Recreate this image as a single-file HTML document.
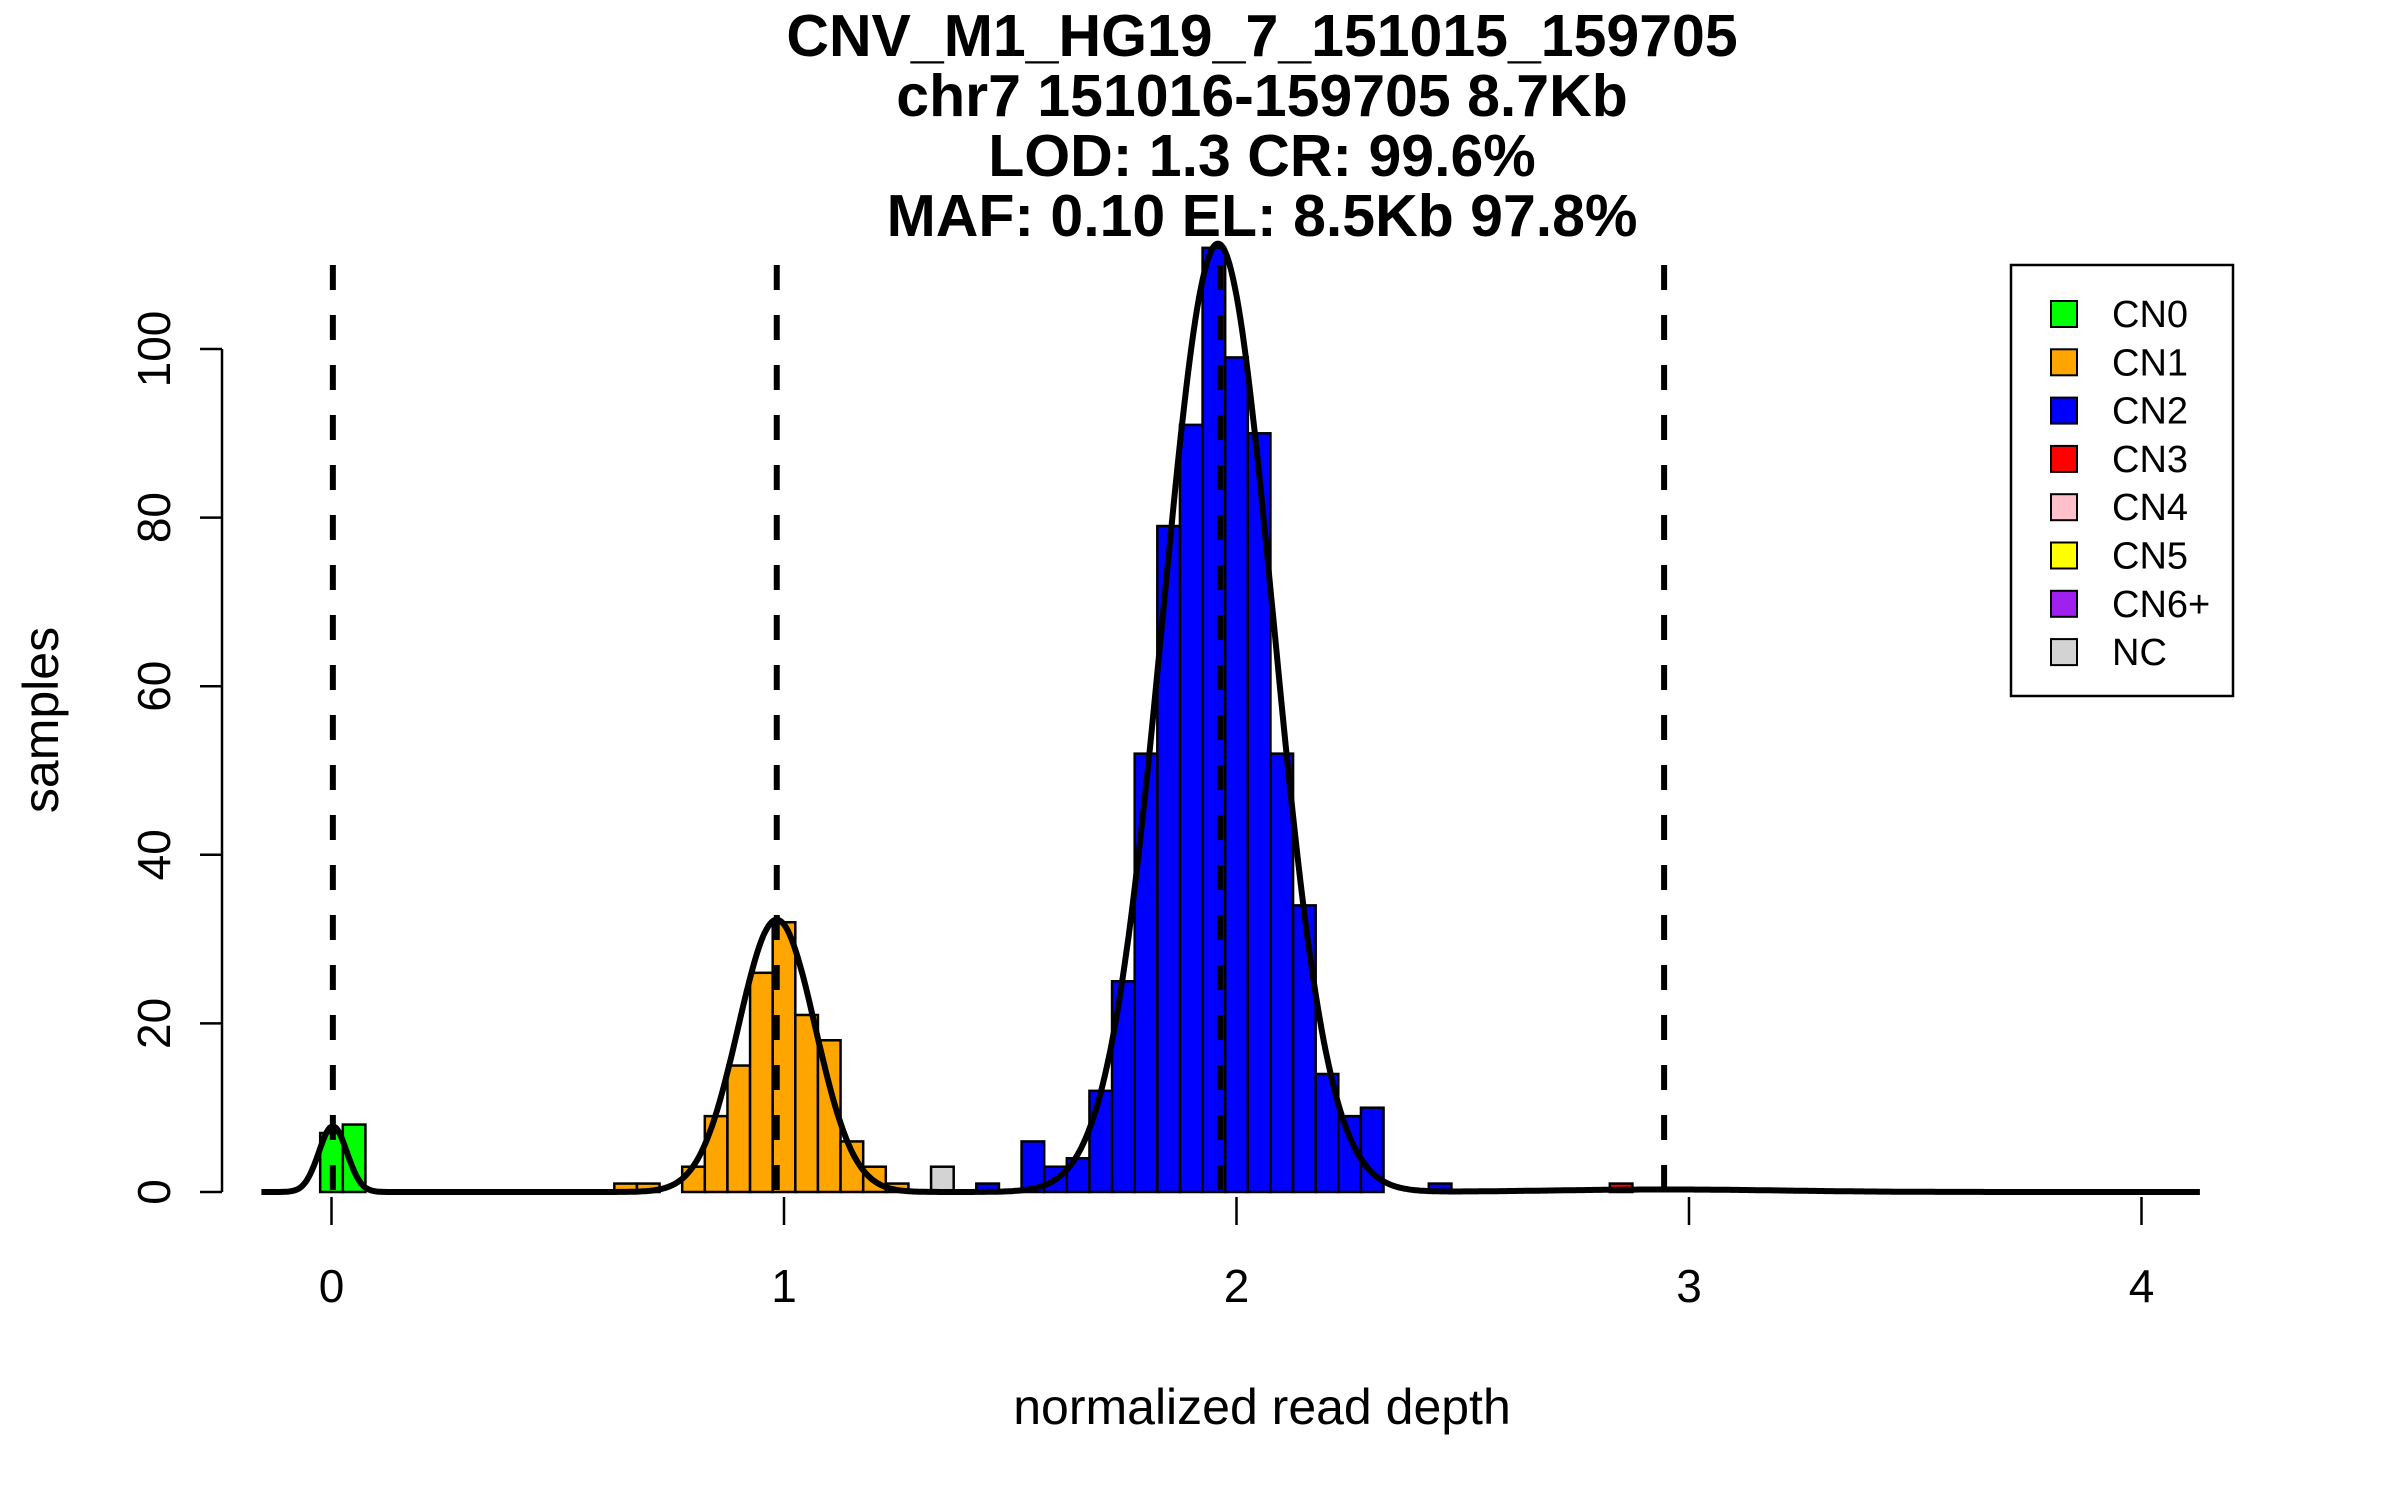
<!DOCTYPE html>
<html><head><meta charset="utf-8"><style>
html,body{margin:0;padding:0;background:#fff;}
svg{display:block;font-family:"Liberation Sans",Arial,sans-serif;}
</style></head><body>
<svg id="chart" width="2400" height="1500" viewBox="0 0 2400 1500">
<g font-weight="bold" font-size="59" text-anchor="middle">
<text x="1262" y="56">CNV_M1_HG19_7_151015_159705</text>
<text x="1262" y="116">chr7 151016-159705 8.7Kb</text>
<text x="1262" y="176">LOD: 1.3 CR: 99.6%</text>
<text x="1262" y="236">MAF: 0.10 EL: 8.5Kb 97.8%</text>
</g>
<g id="bars"></g>
<g id="dashes"></g>
<path id="curve" fill="none" stroke="#000" stroke-width="6" stroke-linejoin="round"/>
<g id="yaxis"></g>
<g id="xaxis"></g>
<text x="1262" y="1424" font-size="50" text-anchor="middle">normalized read depth</text>
<text transform="translate(58,720) rotate(-90)" font-size="50" text-anchor="middle">samples</text>
<g id="legend"></g>
</svg>
<script>
const binWidth = 0.05;
const barLefts = [-0.025,0.025, 0.625,0.675,0.775,0.825,0.875,0.925,0.975,1.025,1.075,1.125,1.175,1.225, 1.325, 1.425,1.525,1.575,1.625,1.675,1.725,1.775,1.825,1.875,1.925,1.975,2.025,2.075,2.125,2.175,2.225,2.275,2.425, 2.825];
const barCounts = [7,8, 1,1,3,9,15,26,32,21,18,6,3,1, 3, 1,6,3,4,12,25,52,79,91,112,99,90,52,34,14,9,10,1, 1];
const barClasses = ['CN0','CN0','CN1','CN1','CN1','CN1','CN1','CN1','CN1','CN1','CN1','CN1','CN1','CN1','NC','CN2','CN2','CN2','CN2','CN2','CN2','CN2','CN2','CN2','CN2','CN2','CN2','CN2','CN2','CN2','CN2','CN2','CN2','CN3'];
const compMeans = [0.003, 0.984, 1.959, 2.95];
const compHeights = [7.8, 32.3, 112.5, 0.3];
const compSds = [0.031, 0.085, 0.122, 0.25];
const refLines = [0.003, 0.984, 1.964, 2.945];
const xTicks = [0,1,2,3,4];
const yTicks = [0,20,40,60,80,100];
const legendLabels = ['CN0','CN1','CN2','CN3','CN4','CN5','CN6+','NC'];
const legendColors = ['#00ff00','#ffa500','#0000ff','#ff0000','#ffc0cb','#ffff00','#a020f0','#d3d3d3'];

const X0 = 331.5, XU = 452.5, Y0 = 1192, YU = 8.43;
const sx = v => X0 + v*XU;
const sy = v => Y0 - v*YU;
const NS = 'http://www.w3.org/2000/svg';
function mk(tag, parent, attrs){const e=document.createElementNS(NS,tag);for(const k in attrs)e.setAttribute(k,attrs[k]);parent.appendChild(e);return e;}
const colorOf = c => legendColors[legendLabels.indexOf(c)];

const bars = document.getElementById('bars');
barLefts.forEach((l,i)=>{
  const x1=sx(l), x2=sx(l+binWidth), y=sy(barCounts[i]);
  const r=mk('rect',bars,{x:x1,y:y,width:x2-x1,height:Y0-y,fill:colorOf(barClasses[i]),stroke:'#000','stroke-width':2.5});
  
  
});

const dashes=document.getElementById('dashes');
refLines.forEach(v=>{
  const l=mk('line',dashes,{x1:sx(v),x2:sx(v),y1:265,y2:Y0,stroke:'#000','stroke-width':6,'stroke-dasharray':'25 25'});
  
  
});

let d='';
for(let v=-0.155; v<=4.13; v+=0.004){
  let s=0;
  for(let k=0;k<compMeans.length;k++){const z=(v-compMeans[k])/compSds[k]; s+=compHeights[k]*Math.exp(-0.5*z*z);}
  d+=(d?'L':'M')+sx(v).toFixed(1)+' '+sy(s).toFixed(1);
}
document.getElementById('curve').setAttribute('d',d);

const ya=document.getElementById('yaxis');
mk('line',ya,{x1:222,x2:222,y1:sy(100),y2:sy(0),stroke:'#000','stroke-width':2.5});
yTicks.forEach(t=>{
  const tk=mk('line',ya,{x1:200,x2:222,y1:sy(t),y2:sy(t),stroke:'#000','stroke-width':2.5});
  
  
  const tx=mk('text',ya,{transform:`translate(170,${sy(t)}) rotate(-90)`,'font-size':46,'text-anchor':'middle'});
  tx.textContent=t;
  
  
});

const xa=document.getElementById('xaxis');
xTicks.forEach(t=>{
  const tk=mk('line',xa,{x1:sx(t),x2:sx(t),y1:1197,y2:1225,stroke:'#000','stroke-width':2.5});
  
  
  const tx=mk('text',xa,{x:sx(t),y:1302,'font-size':46,'text-anchor':'middle'});
  tx.textContent=t;
  
  
});

const lg=document.getElementById('legend');
mk('rect',lg,{x:2011,y:265,width:222,height:431,fill:'#fff',stroke:'#000','stroke-width':2.5});
legendLabels.forEach((lab,i)=>{
  const cy=314+i*48.3;
  const sq=mk('rect',lg,{x:2051,y:cy-13,width:26,height:26,fill:legendColors[i],stroke:'#000','stroke-width':2});
  
  
  const tx=mk('text',lg,{x:2112,y:cy+13,'font-size':38});
  tx.textContent=lab;
  
  
});
</script>
</body></html>
